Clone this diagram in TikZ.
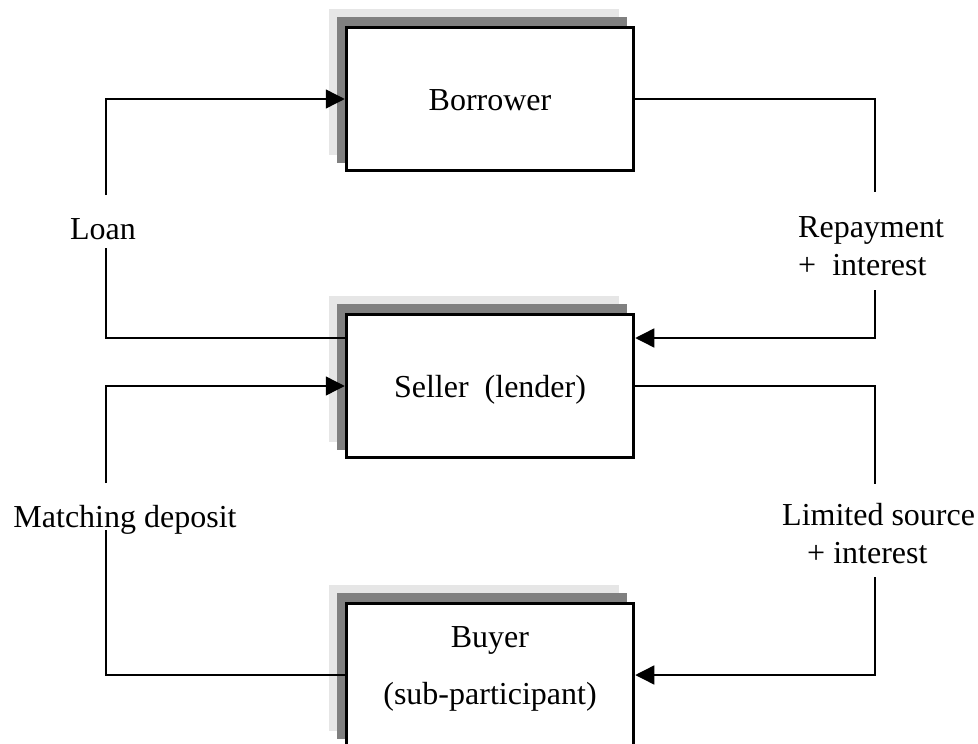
\documentclass[tikz,border=0pt]{standalone}
\usepackage{fontspec}
\setmainfont{Liberation Serif}
\usetikzlibrary{arrows.meta,backgrounds}
\definecolor{shadelight}{HTML}{E6E6E6}
\definecolor{shadedark}{HTML}{808080}
\begin{document}
\begin{tikzpicture}[x=1pt,y=-1pt,
  every node/.style={font=\fontsize{32}{38}\selectfont},
  box/.style={draw, line width=3.5pt, fill=white, minimum width=287pt,
    minimum height=143pt, inner sep=0pt, text height=22pt, text depth=0pt},
  conn/.style={line width=1.4pt},
  tip/.style={-{Triangle[length=19pt,width=19pt]}},
  lbl/.style={inner sep=0pt, anchor=base},
  lblw/.style={inner sep=0pt, anchor=base west}]

\useasboundingbox (0,0) rectangle (978,744);
\clip (0,0) rectangle (978,744);

% the three parties
\node[box] (borrower) at (490,99) {Borrower};
\node[box] (seller)   at (490,386) {Seller\ \ (lender)};
\node[box] (buyer)    at (490,675) {};
\node[lbl] (buyerA) at (490,647) {Buyer};
\node[lbl] (buyerB) at (490,704) {(sub-participant)};

% stacked shadows behind each box
\begin{pgfonlayer}{background}
  \foreach \b in {borrower,seller,buyer}{
    \fill[shadelight] ([shift={(-16,-17)}]\b.north west) rectangle ([shift={(-16,-17)}]\b.south east);
    \fill[shadedark]  ([shift={(-8,-9)}]\b.north west) rectangle ([shift={(-8,-9)}]\b.south east);
  }
\end{pgfonlayer}

% flow labels
\node[lbl] (loan) at (103,239) {Loan};
\node[lblw] (repay1) at (798,237) {Repayment};
\node[lblw] (repay2) at (798,275) {+\ \ interest};
\node[lbl] (match) at (125,527) {Matching deposit};
\node[lblw] (limit1) at (782,525) {Limited source};
\node[lblw] (limit2) at (807,563) {+ interest};

% free ends of the connectors beside the labels
\coordinate (loanA) at (106,195);
\coordinate (loanB) at (106,248);
\coordinate (repA)  at (875,192);
\coordinate (repB)  at (875,290);
\coordinate (matA)  at (106,483);
\coordinate (matB)  at (106,530);
\coordinate (limA)  at (875,484);
\coordinate (limB)  at (875,577);

% loan: seller to borrower
\draw[conn] (seller.west |- 0,338) -| (loanB);
\draw[conn,tip] (loanA) |- (borrower.west);

% repayment: borrower to seller
\draw[conn] (borrower.east) -| (repA);
\draw[conn,tip] (repB) |- (seller.east |- 0,338);

% matching deposit: buyer to seller
\draw[conn] (buyer.west) -| (matB);
\draw[conn,tip] (matA) |- (seller.west);

% limited source: seller to buyer
\draw[conn] (seller.east) -| (limA);
\draw[conn,tip] (limB) |- (buyer.east);
\end{tikzpicture}
\end{document}
